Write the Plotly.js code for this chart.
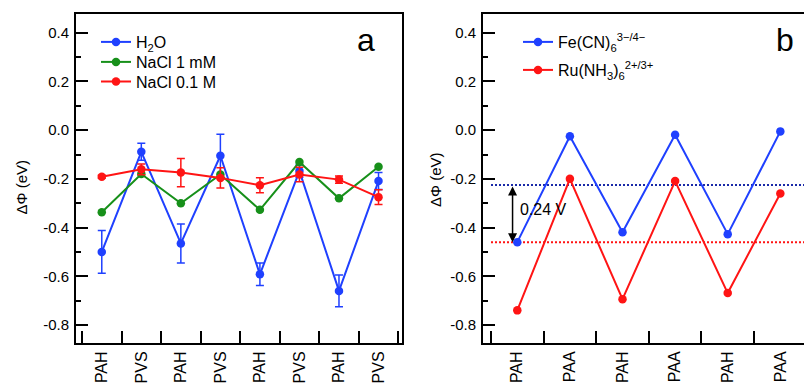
<!DOCTYPE html>
<html>
<head>
<meta charset="utf-8">
<script src="https://cdn.plot.ly/plotly-3.0.1.min.js"></script>
<style>html,body{margin:0;padding:0;background:#fff;}#chart{width:804px;height:385px;}</style>
</head>
<body>
<div id="chart"></div>
<script>
// ---- data (panel a) ----
const catsA = ['PAH','PVS','PAH','PVS','PAH','PVS','PAH','PVS'];
const h2o = [-0.500, -0.089, -0.465, -0.105, -0.592, -0.168, -0.660, -0.209];
const h2oErr = [0.088, 0.035, 0.080, 0.088, 0.046, 0.025, 0.065, 0.035];
const nacl1mM = [-0.337, -0.180, -0.300, -0.182, -0.327, -0.131, -0.280, -0.150];
const nacl01M = [-0.191, -0.161, -0.174, -0.196, -0.226, -0.182, -0.203, -0.275];
const nacl01MErr = [0.006, 0.022, 0.058, 0.042, 0.031, 0.030, 0.015, 0.030];
// ---- data (panel b) ----
const catsB = ['PAH','PAA','PAH','PAA','PAH','PAA'];
const feCN = [-0.460, -0.025, -0.419, -0.019, -0.427, -0.005];
const ruNH3 = [-0.740, -0.200, -0.694, -0.209, -0.669, -0.260];
const refLevels = [-0.225, -0.460];   // dotted reference lines (blue, red)
const gapLabel = '0.24 V';
// ---- tick labels ----
const yTickVals = [0.4, 0.2, 0.0, -0.2, -0.4, -0.6, -0.8];
const yTickText = ['0.4', '0.2', '0.0', '-0.2', '-0.4', '-0.6', '-0.8'];
const yMinorVals = [0.3, 0.1, -0.1, -0.3, -0.5, -0.7];

const BLUE = '#1f40ff', GREEN = '#17901a', RED = '#ff1414';
const FONT = 'Liberation Sans, Arial, sans-serif';
const W = 804, H = 385, T = 14, B = 42;
const PH = H - T - B;
const px = x => x / W;
const py = y => (H - B - y) / PH;

const idxA = catsA.map((_, i) => i);
const idxB = catsB.map((_, i) => i);
const boundsA = catsA.map((_, i) => i - 0.5).concat([catsA.length - 0.5]);
const boundsB = catsB.map((_, i) => i - 0.5).concat([catsB.length - 0.5]);

function line(color, name, x, y, err, xa, ya, leg) {
  const t = {
    type: 'scatter', mode: 'lines+markers', name: name, x: x, y: y,
    xaxis: xa, yaxis: ya, legend: leg, showlegend: true,
    line: {color: color, width: 2},
    marker: {color: color, size: 8.5}
  };
  if (err) t.error_y = {type: 'data', array: err, visible: true, color: color, thickness: 1.5, width: 4};
  return t;
}

const data = [
  line(BLUE, 'H<sub>2</sub>O', idxA, h2o, h2oErr, 'x', 'y', 'legend'),
  line(GREEN, 'NaCl 1 mM', idxA, nacl1mM, null, 'x', 'y', 'legend3'),
  line(RED, 'NaCl 0.1 M', idxA, nacl01M, nacl01MErr, 'x', 'y', 'legend4'),
  line(BLUE, 'Fe(CN)<sub>6</sub><sup>3\u2212/4\u2212</sup>', idxB, feCN, null, 'x2', 'y2', 'legend2'),
  line(RED, 'Ru(NH<sub>3</sub>)<sub>6</sub><sup>2+/3+</sup>', idxB, ruNH3, null, 'x2', 'y2', 'legend5')
];

function xAxis(domain, range, cats, bounds) {
  return {
    domain: domain, range: range, tickmode: 'array',
    tickvals: cats.map((_, i) => i), ticktext: cats, ticks: '',
    tickangle: -90, tickfont: {size: 16, color: '#000', family: FONT},
    minor: {tickmode: 'array', tickvals: bounds, ticks: 'inside', ticklen: 12, tickwidth: 2, tickcolor: '#000'},
    showline: true, linewidth: 2, linecolor: '#000', mirror: true,
    showgrid: false, zeroline: false, fixedrange: true
  };
}
function yAxis(anchor, mirror) {
  return {
    anchor: anchor, range: [-0.874, 0.477], tickmode: 'array',
    tickvals: yTickVals, ticktext: yTickText,
    ticks: 'inside', ticklen: 12, tickwidth: 2, tickcolor: '#000',
    minor: {tickmode: 'array', tickvals: yMinorVals, ticks: 'inside', ticklen: 5, tickwidth: 2, tickcolor: '#000'},
    tickfont: {size: 15, color: '#000', family: FONT}, ticklabelstandoff: 2,
    showline: true, linewidth: 2, linecolor: '#000', mirror: mirror,
    showgrid: false, zeroline: false, fixedrange: true
  };
}
function leg(xLine, yRow) {
  return {x: px(xLine - 5), y: py(yRow), xanchor: 'left', yanchor: 'middle',
          bgcolor: 'rgba(0,0,0,0)', borderwidth: 0, font: {size: 16, family: FONT}};
}

const layout = {
  width: W, height: H,
  showlegend: true,
  margin: {l: 0, r: 0, t: T, b: B, pad: 0},
  paper_bgcolor: '#fff', plot_bgcolor: '#fff',
  font: {family: FONT, color: '#000', size: 15},
  xaxis: xAxis([px(76), px(402)], [-0.652, 7.594], catsA, boundsA),
  yaxis: yAxis('x', true),
  xaxis2: xAxis([px(483), 1], [-0.652, 5.45], catsB, boundsB),
  yaxis2: yAxis('x2', false),
  legend: leg(101, 42),
  legend3: leg(101, 62),
  legend4: leg(101, 81.5),
  legend2: leg(523, 42),
  legend5: leg(523, 70),
  shapes: [
    {type: 'line', xref: 'x2', yref: 'y2', x0: -0.5, x1: 5.45, y0: refLevels[0], y1: refLevels[0],
     line: {color: '#1a2aa8', width: 2, dash: '2px,2px'}, layer: 'below'},
    {type: 'line', xref: 'x2', yref: 'y2', x0: -0.5, x1: 5.45, y0: refLevels[1], y1: refLevels[1],
     line: {color: RED, width: 2, dash: '2px,2px'}, layer: 'below'}
  ],
  annotations: [
    {text: '\u0394\u03A6 (eV)', xref: 'paper', yref: 'paper', x: px(21), y: py(187.5), textangle: -90,
     showarrow: false, xanchor: 'center', yanchor: 'middle', font: {size: 15}},
    {text: '\u0394\u03A6 (eV)', xref: 'paper', yref: 'paper', x: px(435), y: py(179), textangle: -90,
     showarrow: false, xanchor: 'center', yanchor: 'middle', font: {size: 15}},
    {text: 'a', xref: 'paper', yref: 'paper', x: px(366), y: py(40), showarrow: false,
     xanchor: 'center', yanchor: 'middle', font: {size: 32}},
    {text: 'b', xref: 'paper', yref: 'paper', x: px(785), y: py(40), showarrow: false,
     xanchor: 'center', yanchor: 'middle', font: {size: 32}},
    {text: '', xref: 'x2', yref: 'y2', x: -0.09, y: refLevels[1], axref: 'x2', ayref: 'y2',
     ax: -0.09, ay: refLevels[0], showarrow: true, arrowside: 'end+start', arrowhead: 2,
     arrowsize: 1.2, arrowwidth: 1.5, arrowcolor: '#000', standoff: 0, startstandoff: 0},
    {text: gapLabel, xref: 'x2', yref: 'y2', x: 0.005, y: -0.3255, showarrow: false,
     xanchor: 'left', yanchor: 'middle', font: {size: 16}}
  ]
};

Plotly.newPlot('chart', data, layout, {staticPlot: true, displayModeBar: false});
</script>
</body>
</html>
